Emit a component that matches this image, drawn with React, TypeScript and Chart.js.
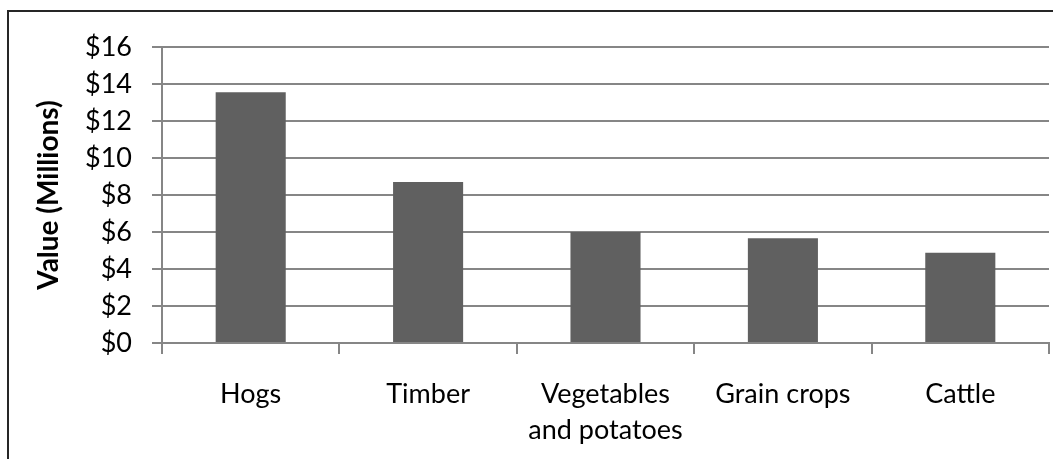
import React, { useEffect, useRef } from 'react';
import { Chart, registerables } from 'chart.js';

Chart.register(...registerables);

const categories: (string | string[])[] = ['Hogs', 'Timber', ['Vegetables', 'and potatoes'], 'Grain crops', 'Cattle'];
const values: number[] = [13.55, 8.7, 6.0, 5.66, 4.88];
const yMin = 0;
const yMax = 16;
const yStep = 2;
const yTickPrefix = '$';
const yTitle = 'Value (Millions)';

export default function App() {
  const ref = useRef<HTMLCanvasElement | null>(null);

  useEffect(() => {
    if (!ref.current) return;
    const font = { family: 'Lato', size: 27 };
    const gridColor = '#868686';
    const chart = new Chart(ref.current, {
      type: 'bar',
      data: {
        labels: categories as any,
        datasets: [
          {
            data: values,
            backgroundColor: '#606060',
            borderWidth: 0,
            categoryPercentage: 1,
            barPercentage: 0.395,
          },
        ],
      },
      options: {
        animation: false,
        responsive: false,
        layout: { padding: { left: 0, top: 47, right: 4, bottom: 0 } },
        plugins: { legend: { display: false }, tooltip: { enabled: false } },
        scales: {
          x: {
            offset: true,
            grid: {
              display: true,
              drawOnChartArea: false,
              drawTicks: true,
              tickLength: 11,
              color: gridColor,
              lineWidth: 2,
            },
            border: { display: true, color: gridColor, width: 2 },
            ticks: { color: '#000', font: { ...font, lineHeight: 1.35 }, padding: 22, maxRotation: 0, autoSkip: false },
            afterFit: (scale: any) => {
              scale.height = 116;
            },
          },
          y: {
            min: yMin,
            max: yMax,
            grid: { color: gridColor, lineWidth: 2, tickLength: 10, drawTicks: true },
            border: { display: true, color: gridColor, width: 2 },
            ticks: {
              stepSize: yStep,
              color: '#000',
              font,
              padding: 20,
              callback: (v: any) => yTickPrefix + v,
            },
            title: {
              display: true,
              text: yTitle,
              color: '#000',
              font: { family: 'Lato', size: 28, weight: 'bold' },
              padding: { top: 32, bottom: 0 },
            },
            afterFit: (scale: any) => {
              scale.width = 162;
            },
          },
        },
      },
    });
    return () => chart.destroy();
  }, []);

  return (
    <div style={{ position: 'fixed', left: 0, top: 0, width: 1053, height: 459, overflow: 'hidden', background: '#fff' }}>
      <div
        style={{
          position: 'absolute',
          left: 7,
          top: 10,
          width: 1100,
          height: 520,
          border: '2px solid #262626',
          boxSizing: 'border-box',
        }}
      />
      <canvas ref={ref} width={1053} height={459} style={{ position: 'absolute', left: 0, top: 0, width: 1053, height: 459 }} />
    </div>
  );
}
